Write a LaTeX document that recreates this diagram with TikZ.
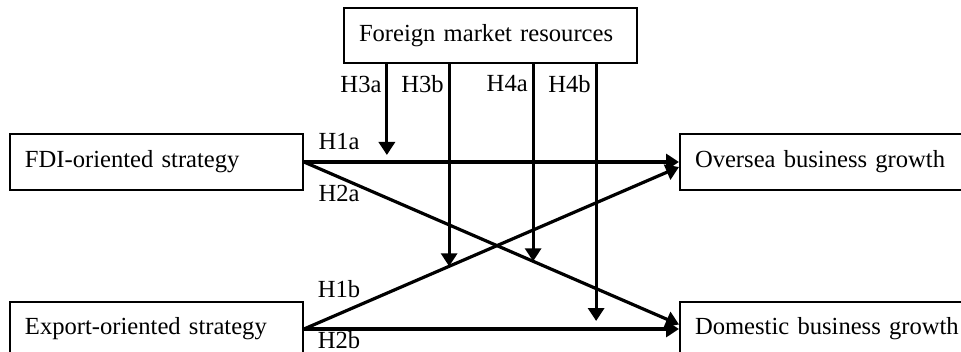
\documentclass[tikz,border=0pt]{standalone}
\usepackage{fontspec}
\setmainfont{Liberation Serif}
\usetikzlibrary{arrows.meta, positioning}

\begin{document}
\begin{tikzpicture}[x=0.5pt, y=-0.5pt, font=\fontsize{12.3}{14}\selectfont,
        box/.style={draw, line width=1pt, inner xsep=7.5pt, text width=131.5pt,
                    minimum height=27.5pt, align=left},
        arr/.style={line width=1.6pt, -{Triangle[width=8pt, length=6.5pt]}},
        lbl/.style={inner sep=1pt}]
      \useasboundingbox (0,0) rectangle (961,352);
      \node[box] (res) at (490.5,35.5) {Foreign market resources};
      \node[box] (fdi) at (156.5,162) {FDI-oriented strategy};
      \node[box, below=55pt of fdi] (exp) {Export-oriented strategy};
      \node[box, text width=126pt, right=187.5pt of fdi] (ovs) {\makebox[126pt][l]{Oversea business growth}};
      \node[box, text width=126pt, below=55pt of ovs] (dom) {\makebox[126pt][l]{Domestic business growth}};
      % direct effects
      \draw[arr] (fdi.east) -- coordinate[pos=0.221] (m3a) (ovs.west);
      \draw[arr] (fdi.east) -- coordinate[pos=0.611] (m4a) ([yshift=2.25pt]dom.west);
      \draw[arr] (exp.east) -- coordinate[pos=0.387] (m3b) ([yshift=-2.5pt]ovs.west);
      \draw[arr] (exp.east) -- coordinate[pos=0.779] (m4b) (dom.west);
      \node[lbl] (h1a) at ([xshift=17.5pt, yshift=10pt]fdi.east) {H1a};
      \node[lbl] (h2a) at ([xshift=17.5pt, yshift=-15.5pt]fdi.east) {H2a};
      \node[lbl] (h1b) at ([xshift=17.5pt, yshift=19.75pt]exp.east) {H1b};
      \node[lbl] (h2b) at ([xshift=17.5pt, yshift=-5.75pt]exp.east) {H2b};
      % moderating effects
      \coordinate (s3a) at (res.south -| m3a);
      \coordinate (s3b) at (res.south -| m3b);
      \coordinate (s4a) at (res.south -| m4a);
      \coordinate (s4b) at (res.south -| m4b);
      \draw[arr] (s3a) -- ([yshift=3.5pt]m3a);
      \draw[arr] (s3b) -- (m3b);
      \draw[arr] (s4a) -- (m4a);
      \draw[arr] (s4b) -- ([yshift=4pt]m4b);
      \node[lbl, anchor=east] (h3a) at ([xshift=-1.5pt, yshift=-10pt]s3a) {H3a};
      \node[lbl, anchor=east] (h3b) at ([xshift=-1.5pt, yshift=-10pt]s3b) {H3b};
      \node[lbl, anchor=east] (h4a) at ([xshift=-1.5pt, yshift=-10pt]s4a) {H4a};
      \node[lbl, anchor=east] (h4b) at ([xshift=-1.5pt, yshift=-10pt]s4b) {H4b};
    \end{tikzpicture}
\end{document}
